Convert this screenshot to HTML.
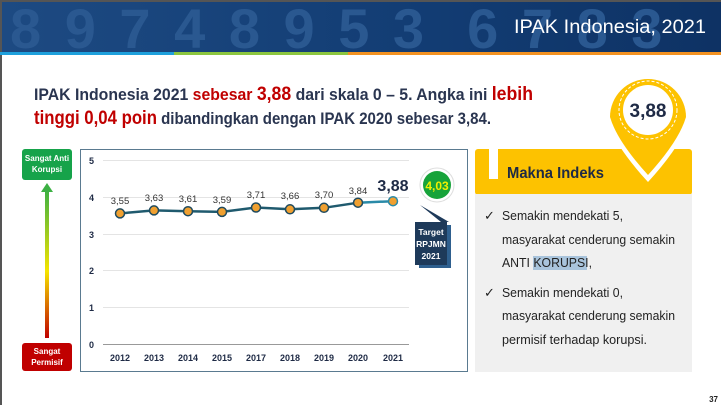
<!DOCTYPE html><html><head><style>
body{margin:0;width:721px;height:405px;background:#fff;position:relative;overflow:hidden;font-family:"Liberation Sans",sans-serif}
.a{position:absolute}
</style></head><body>
<div class="a" style="left:0;top:0;width:721px;height:52px;background:linear-gradient(90deg,#1d4a82,#123c73 60%,#0e3264);overflow:hidden">
<div class="a" style="left:10px;top:-4px;font-size:56px;font-weight:bold;color:#2a5890;letter-spacing:4px;white-space:nowrap">8 9 7 4 8 9 5 3 &nbsp;6 7 8 3</div>
</div>
<div class="a" style="left:0;top:0;width:721px;height:2px;background:#555"></div>
<div class="a" style="left:0;top:0;width:2px;height:405px;background:#555"></div>
<div class="a" style="left:0;top:52px;width:174px;height:3px;background:#1ea0dc"></div>
<div class="a" style="left:174px;top:52px;width:174px;height:3px;background:#8cc63f"></div>
<div class="a" style="left:348px;top:52px;width:373px;height:3px;background:#f39221"></div>

<div class="a" style="left:22px;top:149px;width:50px;height:31px;background:#16a34a;border-radius:3px;color:#fff;font-size:8px;font-weight:bold;text-align:center;line-height:11px;padding-top:4px;box-sizing:border-box">Sangat Anti Korupsi</div>
<div class="a" style="left:45px;top:190px;width:4px;height:148px;background:linear-gradient(#3cb043,#f5e400 55%,#c00000)"></div>
<div class="a" style="left:41px;top:183px;width:0;height:0;border-left:6px solid transparent;border-right:6px solid transparent;border-bottom:9px solid #3cb043"></div>
<div class="a" style="left:22px;top:343px;width:50px;height:28px;background:#c00000;border-radius:3px;color:#fff;font-size:8px;font-weight:bold;text-align:center;line-height:11px;padding-top:3px;box-sizing:border-box">Sangat Permisif</div>

<svg class="a" style="left:0;top:0" width="721" height="405">
<text x="514" y="33" font-size="19" fill="#fff" textLength="192" lengthAdjust="spacingAndGlyphs">IPAK Indonesia, 2021</text>
<text x="34" y="100" font-size="17" font-weight="bold" fill="#2a3550" textLength="499" lengthAdjust="spacingAndGlyphs">IPAK Indonesia 2021 <tspan fill="#c00000">sebesar</tspan> <tspan fill="#c00000" font-size="19">3,88</tspan> dari skala  0 – 5. Angka ini <tspan fill="#c00000" font-size="19">lebih</tspan></text>
<text x="34" y="124" font-size="17" font-weight="bold" fill="#2a3550" textLength="457" lengthAdjust="spacingAndGlyphs"><tspan fill="#c00000" font-size="19">tinggi 0,04 poin</tspan> dibandingkan dengan IPAK 2020 sebesar 3,84.</text>

<rect x="80.5" y="149.5" width="387" height="222" fill="none" stroke="#5a7a90" stroke-width="1"/>
<g stroke="#e4e4e4" stroke-width="1">
<line x1="103" x2="409" y1="160.5" y2="160.5"/><line x1="103" x2="409" y1="197.5" y2="197.5"/><line x1="103" x2="409" y1="234.5" y2="234.5"/><line x1="103" x2="409" y1="270.5" y2="270.5"/><line x1="103" x2="409" y1="307.5" y2="307.5"/></g>
<line x1="103" x2="409" y1="344.5" y2="344.5" stroke="#999"/>
<g font-size="9" font-weight="bold" fill="#1e2a45" text-anchor="end">
<text x="94" y="164">5</text><text x="94" y="201">4</text><text x="94" y="238">3</text><text x="94" y="274">2</text><text x="94" y="311">1</text><text x="94" y="348">0</text></g>
<g font-size="9" font-weight="bold" fill="#1e2a45" text-anchor="middle">
<text x="120" y="361">2012</text><text x="154" y="361">2013</text><text x="188" y="361">2014</text><text x="222" y="361">2015</text><text x="256" y="361">2017</text><text x="290" y="361">2018</text><text x="324" y="361">2019</text><text x="358" y="361">2020</text><text x="393" y="361">2021</text></g>
<polyline fill="none" stroke="#1f5a6e" stroke-width="2.5" points="120,213.4 154,210.4 188,211.2 222,211.9 256,207.5 290,209.3 324,207.8 358,202.7"/>
<line x1="358" y1="202.7" x2="393" y2="201.2" stroke="#2a8aa8" stroke-width="2.5"/>
<g fill="#f0a030" stroke="#1f4a5e" stroke-width="1.5">
<circle cx="120" cy="213.4" r="4.5"/><circle cx="154" cy="210.4" r="4.5"/><circle cx="188" cy="211.2" r="4.5"/><circle cx="222" cy="211.9" r="4.5"/><circle cx="256" cy="207.5" r="4.5"/><circle cx="290" cy="209.3" r="4.5"/><circle cx="324" cy="207.8" r="4.5"/><circle cx="358" cy="202.7" r="4.5"/><circle cx="393" cy="201.2" r="4.5" stroke="#2a8aa8"/></g>
<g font-size="9.5" fill="#333" text-anchor="middle">
<text x="120" y="204">3,55</text><text x="154" y="201">3,63</text><text x="188" y="202">3,61</text><text x="222" y="203">3,59</text><text x="256" y="198">3,71</text><text x="290" y="199">3,66</text><text x="324" y="198">3,70</text><text x="358" y="194">3,84</text></g>
<text x="393" y="191" font-size="16" font-weight="bold" fill="#1e2a45" text-anchor="middle">3,88</text>
<polygon points="420,205 441,222 449,222" fill="#1e3a5a"/>
<rect x="419" y="225" width="32" height="43" fill="#2e5f8e"/>
<rect x="415" y="222" width="32" height="43" fill="#1e3a5a"/>
<g font-size="8.5" font-weight="bold" fill="#fff" text-anchor="middle"><text x="431" y="235">Target</text><text x="431" y="247">RPJMN</text><text x="431" y="259">2021</text></g>
<circle cx="437" cy="185" r="17" fill="#fff" stroke="#ddd"/>
<circle cx="437" cy="185" r="14" fill="#17a33a"/>
<text x="437" y="190" font-size="12" font-weight="bold" fill="#f0f000" text-anchor="middle">4,03</text>

<rect x="475" y="149" width="217" height="46" rx="3" fill="#fdc200"/>
<rect x="475" y="194" width="217" height="178" fill="#f0f0f0"/>
<rect x="489" y="149" width="9" height="30" fill="#fff"/>
<text x="507" y="178" font-size="16" font-weight="bold" fill="#1e2a45" textLength="97" lengthAdjust="spacingAndGlyphs">Makna Indeks</text>
<path d="M606,118 A42,42 0 1 1 690,118 Q682,145 648,182 Q614,145 606,118Z" fill="#fff"/>
<path d="M610,117 A38,38 0 1 1 686,117 Q679,141 648,175 Q617,141 610,117Z" fill="#fdc200"/>
<circle cx="648" cy="110" r="25" fill="#fff"/>
<circle cx="648" cy="110" r="29" fill="none" stroke="#fff" stroke-width="1" stroke-dasharray="3 2"/>
<text x="648" y="117" font-size="19" font-weight="bold" fill="#1e2a45" text-anchor="middle">3,88</text>
<rect x="533" y="256" width="54" height="14" fill="#a9c4dc"/>
<g font-size="13" fill="#222" lengthAdjust="spacingAndGlyphs">
<text x="484" y="220">✓</text><text x="502" y="220" textLength="121" lengthAdjust="spacingAndGlyphs">Semakin mendekati 5,</text>
<text x="502" y="244" textLength="173" lengthAdjust="spacingAndGlyphs">masyarakat cenderung semakin</text>
<text x="502" y="267" textLength="90" lengthAdjust="spacingAndGlyphs">ANTI KORUPSI,</text>
<text x="484" y="297">✓</text><text x="502" y="297" textLength="121" lengthAdjust="spacingAndGlyphs">Semakin mendekati 0,</text>
<text x="502" y="320" textLength="173" lengthAdjust="spacingAndGlyphs">masyarakat cenderung semakin</text>
<text x="502" y="344" textLength="145" lengthAdjust="spacingAndGlyphs">permisif terhadap korupsi.</text></g>
<text x="718" y="402" font-size="8" font-weight="bold" fill="#222" text-anchor="end">37</text>
</svg>
</body></html>
